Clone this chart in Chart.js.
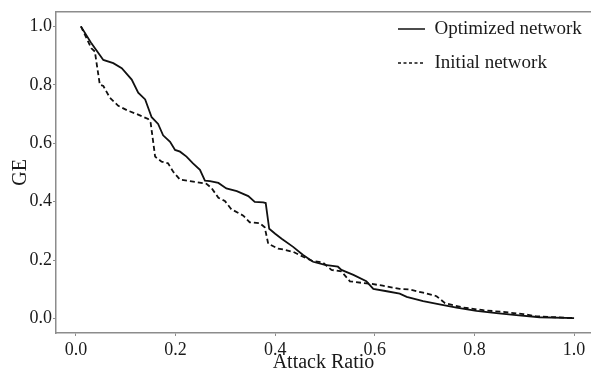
<!DOCTYPE html>
<html>
<head>
<meta charset="utf-8">
<script src="https://cdn.jsdelivr.net/npm/chart.js@4.4.1/dist/chart.umd.min.js"></script>
<style>
  html, body { margin: 0; padding: 0; background: #fff; }
  #wrap { width: 591px; height: 372px; }
</style>
</head>
<body>
<div id="wrap"><canvas id="geChart" width="591" height="372"></canvas></div>
<script>
document.addEventListener("DOMContentLoaded", () => {

    // ===========================
    // DATA
    // ===========================

    const seriesNames = ["Optimized network", "Initial network"];

    const optimizedX = [0.01, 0.03, 0.055, 0.075, 0.092, 0.112, 0.125, 0.139, 0.152, 0.165,
        0.175, 0.189, 0.199, 0.209, 0.222, 0.235, 0.249, 0.259, 0.269, 0.286,
        0.302, 0.323, 0.346, 0.359, 0.376, 0.381, 0.388, 0.40, 0.413, 0.436,
        0.456, 0.476, 0.50, 0.526, 0.533, 0.557, 0.583, 0.597, 0.624, 0.65,
        0.664, 0.697, 0.73, 0.764, 0.804, 0.844, 0.884, 0.931, 1.0];
    const optimizedGE = [1.0, 0.945, 0.885, 0.874, 0.857, 0.818, 0.773, 0.75, 0.689, 0.666,
        0.627, 0.605, 0.577, 0.571, 0.554, 0.531, 0.509, 0.472, 0.47, 0.464,
        0.445, 0.436, 0.419, 0.399, 0.397, 0.395, 0.307, 0.29, 0.273, 0.245,
        0.217, 0.194, 0.183, 0.177, 0.166, 0.149, 0.127, 0.101, 0.093, 0.085,
        0.074, 0.059, 0.048, 0.037, 0.026, 0.018, 0.011, 0.004, 0.001];

    const initialX = [0.01, 0.031, 0.038, 0.048, 0.055, 0.068, 0.085, 0.105, 0.122, 0.145,
        0.15, 0.159, 0.172, 0.185, 0.195, 0.209, 0.229, 0.262, 0.272, 0.286,
        0.299, 0.312, 0.336, 0.349, 0.369, 0.379, 0.386, 0.406, 0.416, 0.436,
        0.456, 0.473, 0.496, 0.513, 0.533, 0.55, 0.577, 0.59, 0.616, 0.65,
        0.67, 0.697, 0.724, 0.741, 0.778, 0.818, 0.858, 0.898, 0.925, 1.0];
    const initialGE = [1.0, 0.925, 0.914, 0.80, 0.796, 0.756, 0.728, 0.711, 0.70, 0.683,
        0.67, 0.554, 0.537, 0.531, 0.503, 0.475, 0.47, 0.461, 0.447, 0.413,
        0.402, 0.374, 0.352, 0.329, 0.326, 0.312, 0.256, 0.239, 0.236, 0.228,
        0.211, 0.198, 0.191, 0.166, 0.161, 0.127, 0.121, 0.119, 0.112, 0.101,
        0.099, 0.088, 0.076, 0.052, 0.037, 0.028, 0.022, 0.015, 0.007, 0.001];

    // ===========================
    // HELPER
    // ===========================

    const FONT = "'Liberation Serif', 'Times New Roman', serif";
    const AXIS_GREY = "#8c8c8c";
    const INK = "#1a1a1a";

    function toPoints(xs, ys) {
        return xs.map((x, i) => ({ x: x, y: ys[i] }));
    }

    // legend sits inside the plot, top right
    const legendInPlot = {
        id: "legendInPlot",
        afterLayout(chart) {
            const lg = chart.legend;
            if (!lg) return;
            lg.left = 383;
            lg.top = 4.5;
            lg.right = lg.left + lg.width;
            lg.bottom = lg.top + lg.height;
        }
    };

    // ===========================
    // CHART
    // ===========================

    const ctx = document.getElementById("geChart").getContext("2d");

    new Chart(ctx, {
        type: "line",
        data: {
            datasets: [
                {
                    label: seriesNames[0],
                    data: toPoints(optimizedX, optimizedGE),
                    borderColor: "#111",
                    borderWidth: 1.8,
                    pointRadius: 0,
                    tension: 0,
                    fill: false
                },
                {
                    label: seriesNames[1],
                    data: toPoints(initialX, initialGE),
                    borderColor: "#111",
                    borderWidth: 1.8,
                    borderDash: [5, 3],
                    pointRadius: 0,
                    tension: 0,
                    fill: false
                }
            ]
        },
        options: {
            responsive: false,
            animation: false,
            devicePixelRatio: 1,
            layout: { padding: 0 },
            plugins: {
                tooltip: { enabled: false },
                legend: {
                    position: "chartArea",
                    align: "start",
                    labels: {
                        usePointStyle: true,
                        pointStyle: "line",
                        pointStyleWidth: 27,
                        padding: 15,
                        color: INK,
                        font: { family: FONT, size: 19 },
                        generateLabels(chart) {
                            const items = Chart.defaults.plugins.legend.labels.generateLabels(chart);
                            items.forEach(it => {
                                it.lineWidth = 1.6;
                                it.strokeStyle = "#111";
                                it.fillStyle = "rgba(0,0,0,0)";
                                if (it.datasetIndex === 1) it.lineDash = [3, 2.5];
                            });
                            return items;
                        }
                    }
                }
            },
            scales: {
                x: {
                    type: "linear",
                    position: "bottom",
                    min: -0.04,
                    max: 1.034,
                    afterFit(scale) { scale.height = 39; },
                    ticks: {
                        stepSize: 0.2,
                        includeBounds: false,
                        padding: 3,
                        color: INK,
                        font: { family: FONT, size: 18 },
                        maxRotation: 0,
                        callback: v => v.toFixed(1)
                    },
                    grid: { display: true, drawOnChartArea: false, drawTicks: true, tickLength: 3, color: AXIS_GREY },
                    border: { display: true, color: AXIS_GREY, width: 1.5 },
                    title: {
                        display: true,
                        text: "Attack Ratio",
                        color: INK,
                        font: { family: FONT, size: 20, lineHeight: 1 },
                        padding: { top: 0, bottom: -1 }
                    }
                },
                xTop: {
                    type: "linear",
                    position: "top",
                    min: -0.04,
                    max: 1.034,
                    afterFit(scale) { scale.height = 8; },
                    ticks: { display: false },
                    grid: { display: false },
                    border: { display: true, color: AXIS_GREY, width: 1.5 }
                },
                y: {
                    type: "linear",
                    min: -0.05,
                    max: 1.05,
                    afterFit(scale) { scale.width = 56; },
                    ticks: {
                        stepSize: 0.2,
                        includeBounds: false,
                        padding: 1,
                        color: INK,
                        font: { family: FONT, size: 18 },
                        callback: v => v.toFixed(1)
                    },
                    grid: { display: true, drawOnChartArea: false, drawTicks: true, tickLength: 3, color: AXIS_GREY },
                    border: { display: true, color: AXIS_GREY, width: 1.5 },
                    title: {
                        display: true,
                        text: "GE",
                        color: INK,
                        font: { family: FONT, size: 20, lineHeight: 1 },
                        padding: { top: 11, bottom: 0 }
                    }
                }
            }
        },
        plugins: [legendInPlot]
    });

});
</script>
</body>
</html>
